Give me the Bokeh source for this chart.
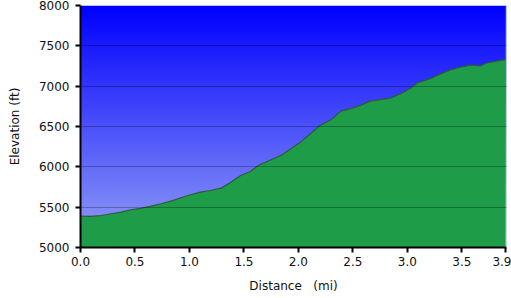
import numpy as np
from bokeh.plotting import figure
from bokeh.models import FixedTicker, NumeralTickFormatter, Span, Range1d
from bokeh.embed import file_html
from bokeh.resources import INLINE

# Elevation profile
distance_mi = [0.00, 0.09, 0.19, 0.28, 0.37, 0.46, 0.55, 0.64, 0.74, 0.83,
               0.92, 1.01, 1.10, 1.19, 1.29, 1.38, 1.47, 1.56, 1.63, 1.75,
               1.84, 1.93, 2.02, 2.11, 2.20, 2.30, 2.39, 2.48, 2.57, 2.66,
               2.75, 2.85, 2.94, 3.03, 3.09, 3.21, 3.31, 3.40, 3.49, 3.58,
               3.67, 3.73, 3.82, 3.90]
elevation_ft = [5388, 5385, 5397, 5418, 5438, 5468, 5484, 5509, 5542, 5575,
                5617, 5654, 5686, 5707, 5736, 5810, 5893, 5943, 6017, 6088,
                6141, 6224, 6306, 6410, 6514, 6584, 6691, 6721, 6762, 6815,
                6833, 6853, 6907, 6975, 7039, 7093, 7155, 7205, 7237, 7260,
                7252, 7287, 7311, 7328]

x_ticks = [0.0, 0.5, 1.0, 1.5, 2.0, 2.5, 3.0, 3.5, 3.9]
y_ticks = [5000, 5500, 6000, 6500, 7000, 7500, 8000]
x_start, x_end = 0.0, 3.91
y_start, y_end = 5000, 8000

p = figure(width=511, height=298,
           x_range=Range1d(x_start, x_end), y_range=Range1d(y_start, y_end),
           output_backend="svg", toolbar_location=None,
           min_border_left=80, min_border_right=5,
           min_border_top=5, min_border_bottom=51)
p.outline_line_color = None
p.background_fill_color = "white"
p.border_fill_color = "white"

# blue sky gradient behind the plot
ny = 242
t = np.linspace(1.0, 0.0, ny)  # row 0 = bottom (light)
img = np.empty((ny, 2), dtype=np.uint32)
view = img.view(dtype=np.uint8).reshape((ny, 2, 4))
view[:, :, 0] = (150 * t)[:, None].astype(np.uint8)
view[:, :, 1] = (162 * t)[:, None].astype(np.uint8)
view[:, :, 2] = (255 - 10 * t)[:, None].astype(np.uint8)
view[:, :, 3] = 255
p.image_rgba(image=[img], x=x_start, y=y_start,
             dw=x_end - x_start, dh=y_end - y_start)

# terrain
p.varea(x=distance_mi, y1=y_start, y2=elevation_ft,
        fill_color="#1f9c47", fill_alpha=1.0)
p.line(distance_mi, elevation_ft, line_color="#2e5a3e", line_width=1.2)

p.add_layout(Span(location=x_end, dimension="height",
                  line_color="#a9cdd6", line_width=1.5))

# grid
p.xgrid.visible = False
p.ygrid.ticker = FixedTicker(ticks=y_ticks)
p.ygrid.grid_line_color = "black"
p.ygrid.grid_line_alpha = 0.28
p.ygrid.grid_line_width = 1
p.ygrid.level = "overlay"

# axes
for ax in (p.xaxis[0], p.yaxis[0]):
    ax.axis_line_color = "black"
    ax.axis_line_width = 2
    ax.major_tick_line_color = "black"
    ax.major_tick_line_width = 2
    ax.major_tick_out = 5
    ax.major_tick_in = 0
    ax.minor_tick_line_color = None
    ax.major_label_text_font = "DejaVu Sans"
    ax.major_label_text_font_size = "12px"
    ax.major_label_text_color = "#111111"
    ax.axis_label_text_font = "DejaVu Sans"
    ax.axis_label_text_font_size = "12px"
    ax.axis_label_text_font_style = "normal"
    ax.axis_label_text_color = "#111111"

p.xaxis.ticker = FixedTicker(ticks=x_ticks)
p.xaxis.formatter = NumeralTickFormatter(format="0.0")
p.xaxis.axis_label = "Distance\u00a0\u00a0\u00a0(mi)"
p.xaxis.major_label_standoff = 4
p.xaxis.axis_label_standoff = 10

p.yaxis.ticker = FixedTicker(ticks=y_ticks)
p.yaxis.axis_label = "Elevation (ft)"
p.yaxis.major_label_standoff = 6
p.yaxis.axis_label_standoff = 14

open("out.html", "w").write(file_html(p, INLINE))
